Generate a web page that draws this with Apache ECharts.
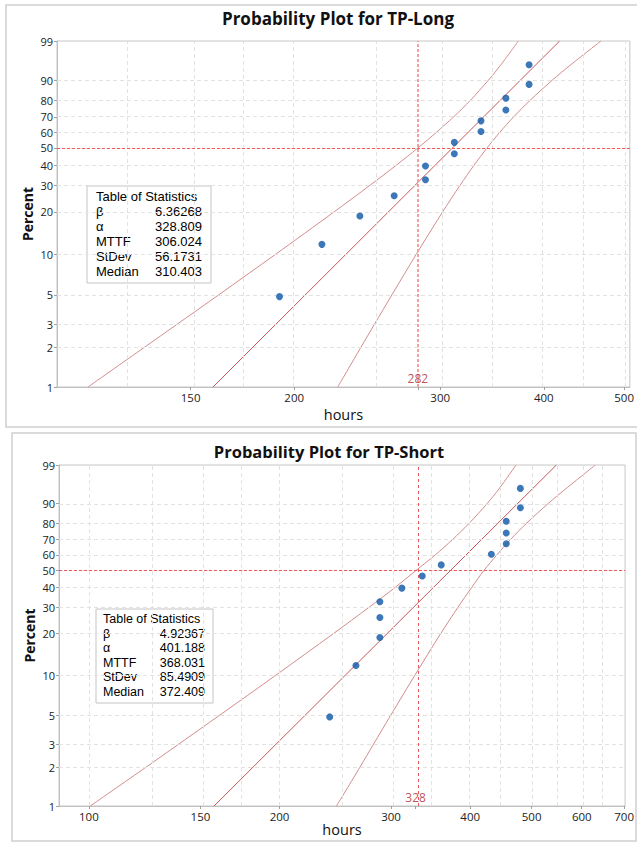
<!DOCTYPE html>
<html><head><meta charset="utf-8">
<script src="https://cdn.jsdelivr.net/npm/echarts@6/dist/echarts.min.js"></script>
<style>html,body{margin:0;padding:0;background:#fff}#c{width:637px;height:844px}</style>
</head><body><div id="c"></div>
<script>
// ---------- data ----------
const percentTicks = [1, 2, 3, 5, 10, 20, 30, 40, 50, 60, 70, 80, 90, 99];
const curvePercents = [1, 2, 3, 5, 10, 20, 30, 40, 50, 60, 70, 80, 90, 95, 99];
const fitPercents = [1, 99];
const statLabels = ['β', 'α', 'MTTF', 'StDev', 'Median'];

// TP-Long
const longTitle = 'Probability Plot for TP-Long';
const longHours = [192, 216, 240, 264, 288, 288, 312, 312, 336, 336, 360, 360, 384, 384];
const longPercent = [4.86, 11.81, 18.75, 25.69, 32.64, 39.58, 46.53, 53.47, 60.42, 67.36, 74.31, 81.25, 88.19, 95.14];
const longFitHours = [159.6, 418.0];
const longLowerHours = [112.8, 131.8, 144.4, 162.1, 189.9, 223.4, 246.7, 265.6, 282.0, 297.0, 311.5, 326.2, 343.0, 354.7, 372.7];
const longUpperHours = [225.7, 240.6, 249.9, 262.3, 280.7, 302.0, 316.9, 329.6, 341.7, 354.1, 368.0, 385.0, 409.6, 430.4, 468.8];
const longXTicks = [150, 200, 300, 400, 500];
const longXGrid = [125, 150, 175, 200, 250, 300, 350, 400, 450, 500];
const longXRange = [103.5, 508];
const longRef = 282;
const longStats = ['6.36268', '328.809', '306.024', '56.1731', '310.403'];

// TP-Short
const shortTitle = 'Probability Plot for TP-Short';
const shortHours = [240, 264, 288, 288, 288, 312, 336, 360, 432, 456, 456, 456, 480, 480];
const shortPercent = [4.86, 11.81, 18.75, 25.69, 32.64, 39.58, 46.53, 53.47, 60.42, 67.36, 74.31, 81.25, 88.19, 95.14];
const shortFitHours = [157.6, 547.1];
const shortLowerHours = [100.5, 123.1, 138.5, 160.8, 197.3, 243.4, 276.8, 304.5, 328.5, 352.4, 374.9, 398.2, 425.3, 444.1, 472.5];
const shortUpperHours = [246.0, 267.9, 281.4, 299.6, 327.1, 359.4, 382.5, 402.2, 420.5, 440.8, 462.9, 490.4, 531.0, 565.8, 630.5];
const shortXTicks = [100, 150, 200, 300, 400, 500, 600, 700];
const shortXGrid = [100, 125, 150, 175, 200, 250, 300, 350, 400, 450, 500, 550, 600, 650, 700];
const shortXRange = [89.7, 702.4];
const shortRef = 328;
const shortStats = ['4.92367', '401.188', '368.031', '85.4909', '372.409'];

// ---------- scales ----------
const tx = h => Math.log10(h);                       // log time scale
const ty = p => Math.log(-Math.log(1 - p / 100));    // Weibull probability scale
const FONT = '"Open Sans"';
const TFONT = '"Liberation Sans"';
function nearest(arr, f, v) {
  let best = arr[0], d = Infinity;
  arr.forEach(a => { const dd = Math.abs(f(a) - v); if (dd < d) { d = dd; best = a; } });
  return best;
}

const panels = [
  { grid: { left: 57, top: 41, width: 576, height: 346 }, hours: longHours, pct: longPercent,
    fit: longFitHours, lower: longLowerHours, upper: longUpperHours, xTicks: longXTicks,
    xGrid: longXGrid, xRange: longXRange, ref: longRef,
    refStyle: { color: '#f2a0a0', width: 2, type: [3, 2] }, xNameGap: 20, yNameGap: 23 },
  { grid: { left: 59, top: 465, width: 567, height: 341 }, hours: shortHours, pct: shortPercent,
    fit: shortFitHours, lower: shortLowerHours, upper: shortUpperHours, xTicks: shortXTicks,
    xGrid: shortXGrid, xRange: shortXRange, ref: shortRef,
    refStyle: { color: '#e45a5a', width: 1, type: [3, 3] }, xNameGap: 16, yNameGap: 23 }
];

const grids = [], xAxes = [], yAxes = [], series = [];
panels.forEach((P, i) => {
  grids.push(Object.assign({ show: true, borderColor: '#c6c6c6', borderWidth: 1, containLabel: false }, P.grid));
  xAxes.push({
    gridIndex: i, type: 'value', min: tx(P.xRange[0]), max: tx(P.xRange[1]),
    axisLine: { show: true, onZero: false, lineStyle: { color: '#c0c0c0' } },
    axisTick: { show: true, length: 3, customValues: P.xTicks.concat([P.ref]).map(tx), lineStyle: { color: '#a0a0a0' } },
    axisLabel: { customValues: P.xTicks.map(tx), formatter: v => String(nearest(P.xTicks, tx, v)),
      fontFamily: FONT, fontSize: 11.5, color: '#222', margin: 4 },
    splitLine: { show: false },
    name: 'hours', nameLocation: 'middle', nameGap: P.xNameGap, nameMoveOverlap: false,
    nameTextStyle: { fontFamily: FONT, fontSize: 14.5, color: '#111' }
  });
  yAxes.push({
    gridIndex: i, type: 'value', min: ty(1), max: ty(99),
    axisLine: { show: true, onZero: false, lineStyle: { color: '#c0c0c0' } },
    axisTick: { show: true, length: 3, customValues: percentTicks.map(ty), lineStyle: { color: '#a0a0a0' } },
    axisLabel: { customValues: percentTicks.map(ty), formatter: v => String(nearest(percentTicks, ty, v)),
      fontFamily: FONT, fontSize: 11, color: '#222', margin: 4 },
    splitLine: { show: false },
    name: 'Percent', nameLocation: 'middle', nameRotate: 90, nameGap: P.yNameGap, nameMoveOverlap: false,
    nameTextStyle: { fontFamily: FONT, fontSize: 14, fontWeight: 'bold', color: '#111' }
  });
  const ax = { xAxisIndex: i, yAxisIndex: i };
  // grid lines
  series.push(Object.assign({
    type: 'line', data: [], silent: true, z: 1,
    markLine: { silent: true, symbol: 'none', label: { show: false }, animation: false,
      lineStyle: { color: '#e2e2e2', type: [4, 3], width: 1 },
      data: P.xGrid.map(h => ({ xAxis: tx(h) })).concat(percentTicks.slice(1, -1).map(p => ({ yAxis: ty(p) }))) }
  }, ax));
  // reference lines
  series.push(Object.assign({
    type: 'line', data: [], silent: true, z: 3,
    markLine: { silent: true, symbol: 'none', label: { show: false }, animation: false,
      data: [ { yAxis: ty(50), lineStyle: { color: '#ef5b5b', type: [3, 2], width: 1 } },
              { xAxis: tx(P.ref), lineStyle: P.refStyle } ] }
  }, ax));
  // fitted line
  series.push(Object.assign({
    type: 'line', showSymbol: false, silent: true, z: 4,
    color: '#c4585b', itemStyle: { color: '#c4585b' },
    lineStyle: { color: '#c4585b', width: 1 },
    data: P.fit.map((h, k) => [tx(h), ty(fitPercents[k])])
  }, ax));
  // confidence bounds
  [P.lower, P.upper].forEach(arr => {
    series.push(Object.assign({
      type: 'line', smooth: 0.3, showSymbol: false, silent: true, z: 3,
      color: '#d38c8c', itemStyle: { color: '#d38c8c' },
      lineStyle: { color: '#d38c8c', width: 1 },
      data: arr.map((h, k) => [tx(h), ty(curvePercents[k])])
    }, ax));
  });
  // points
  series.push(Object.assign({
    type: 'scatter', symbolSize: 7, z: 5,
    itemStyle: { color: '#0b56a6' },
    data: P.hours.map((h, k) => [tx(h), ty(P.pct[k])])
  }, ax));
  // reference label
  series.push(Object.assign({
    type: 'scatter', symbolSize: 0, z: 6, silent: true,
    data: [[tx(P.ref), ty(1)]],
    label: { show: true, position: 'top', distance: 3, formatter: String(P.ref),
      fontFamily: FONT, fontSize: 12, color: '#a8282c' }
  }, ax));
});

function statsBox(x, y, w, h, stats, rowStep, labelX, valueX, fs) {
  const base = { font: fs + 'px ' + TFONT, fill: '#000', textVerticalAlign: 'middle' };
  const children = [
    { type: 'rect', shape: { x: x, y: y, width: w, height: h }, style: { fill: '#fff', stroke: '#c4c4c4', lineWidth: 1 } },
    { type: 'text', style: Object.assign({ x: labelX, y: y + 10, text: 'Table of Statistics' }, base) }
  ];
  statLabels.forEach((lab, k) => {
    const yy = y + 10 + rowStep * (k + 1);
    children.push({ type: 'text', style: Object.assign({ x: labelX, y: yy, text: lab }, base) });
    children.push({ type: 'text', style: Object.assign({ x: valueX, y: yy, text: stats[k], textAlign: 'right' }, base) });
  });
  return { type: 'group', z: 50, children: children };
}

const option = {
  animation: false,
  backgroundColor: '#fff',
  grid: grids, xAxis: xAxes, yAxis: yAxes, series: series,
  graphic: [
    { type: 'rect', z: 0, shape: { x: 6, y: 5, width: 640, height: 422 }, style: { fill: 'none', stroke: '#dadada', lineWidth: 2 } },
    { type: 'rect', z: 0, shape: { x: 12, y: 433, width: 624, height: 408 }, style: { fill: 'none', stroke: '#dadada', lineWidth: 2 } },
    { type: 'text', z: 50, style: { x: 338, y: 18, text: longTitle, font: 'bold 17px ' + FONT, fill: '#111', textAlign: 'center', textVerticalAlign: 'middle' } },
    { type: 'text', z: 50, style: { x: 329, y: 451, text: shortTitle, font: 'bold 16.5px ' + FONT, fill: '#111', textAlign: 'center', textVerticalAlign: 'middle' } },
    statsBox(87, 186, 124, 97, longStats, 15.1, 96, 202, 13),
    statsBox(96, 609, 117, 94, shortStats, 14.5, 103, 205, 12.5)
  ]
};
const chart = echarts.init(document.getElementById('c'), null, { renderer: 'svg', width: 637, height: 844 });
chart.setOption(option);
</script></body></html>
